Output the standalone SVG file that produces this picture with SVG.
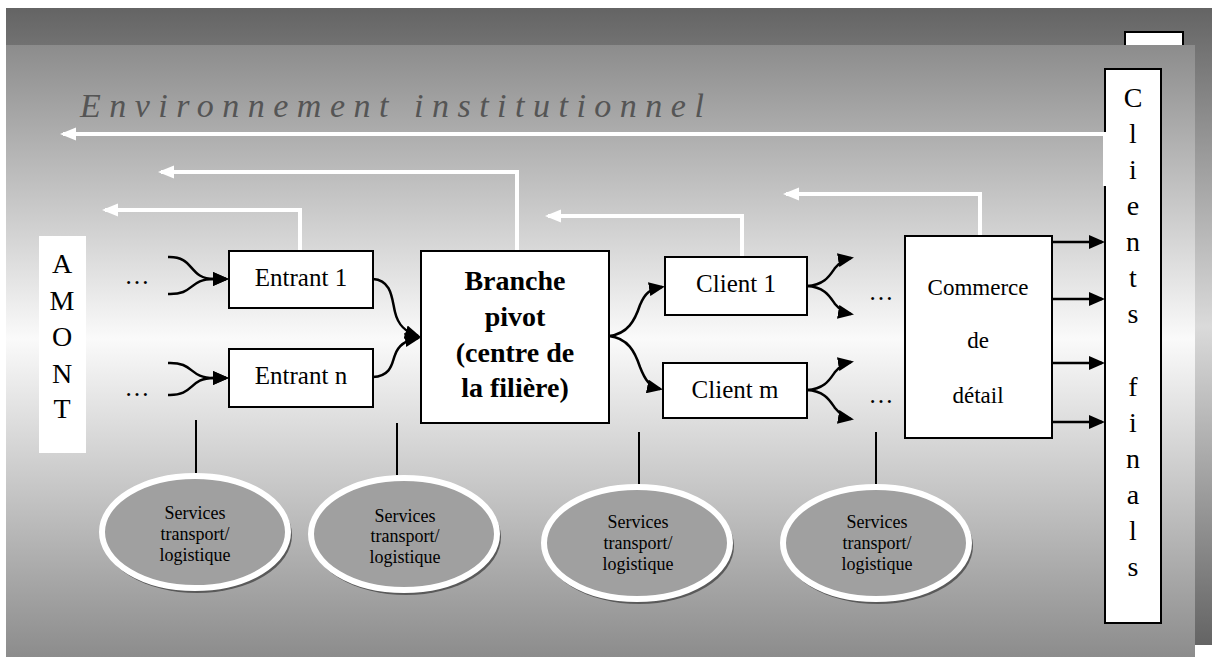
<svg xmlns="http://www.w3.org/2000/svg" width="1212" height="657" viewBox="0 0 1212 657">
<style>
.box{fill:#fff;stroke:#000;stroke-width:2}
.lbl{font-family:"Liberation Serif","Times New Roman",serif;fill:#000;text-anchor:middle}
.t25{font-size:25px}
.t28{font-size:28px}
.conn{fill:none;stroke:#000;stroke-width:2.5;marker-end:url(#ah)}
.wconn{fill:none;stroke:#fff;stroke-width:4;stroke-linejoin:miter;marker-end:url(#wah)}
.vline{fill:none;stroke:#000;stroke-width:2}
.shadow{fill:#5a5a5a}
.ell{fill:#a0a0a0;stroke:#fff;stroke-width:6}
.svc{font-family:"Liberation Serif","Times New Roman",serif;font-size:18px;fill:#000;text-anchor:middle}
</style>
<defs>
<linearGradient id="gBack" x1="0" y1="0" x2="0" y2="1">
<stop offset="0" stop-color="#646464"/>
<stop offset="0.5" stop-color="#dadada"/>
<stop offset="1" stop-color="#646464"/>
</linearGradient>
<linearGradient id="gFront" x1="0" y1="0" x2="0" y2="1">
<stop offset="0" stop-color="#8c8c8c"/>
<stop offset="0.48" stop-color="#fafafa"/>
<stop offset="1" stop-color="#8c8c8c"/>
</linearGradient>
<marker id="ah" markerUnits="userSpaceOnUse" markerWidth="16" markerHeight="14" refX="13" refY="7" orient="auto"><path d="M0,0 L16,7 L0,14 z" fill="#000"/></marker>
<marker id="wah" markerUnits="userSpaceOnUse" markerWidth="16" markerHeight="14" refX="13" refY="7" orient="auto"><path d="M0,0.5 L16,7 L0,13.5 z" fill="#fff"/></marker>
</defs>

<g id="background">
<rect x="6" y="8" width="1206" height="637" fill="url(#gBack)"/>
<rect x="1125" y="32" width="58" height="100" fill="#fff" stroke="#000" stroke-width="2"/>
<rect x="6" y="45" width="1189" height="612" fill="url(#gFront)"/>
<text x="80" y="117" font-family="'Liberation Serif','Times New Roman',serif" font-style="italic" font-size="34" letter-spacing="8.5" fill="#555">Environnement institutionnel</text>
</g>

<g id="amont">
<rect x="39" y="236" width="47" height="217" fill="#fff"/>
<text class="lbl t28" x="62" y="273">A</text>
<text class="lbl t28" x="62" y="310">M</text>
<text class="lbl t28" x="62" y="346">O</text>
<text class="lbl t28" x="62" y="383">N</text>
<text class="lbl t28" x="62" y="418">T</text>
</g>

<g id="dots">
<text class="lbl t25" x="137" y="284">…</text>
<text class="lbl t25" x="137" y="396">…</text>
<text class="lbl t25" x="881" y="300">…</text>
<text class="lbl t25" x="881" y="403">…</text>
</g>

<g id="entrant1">
<rect class="box" x="229" y="251" width="144" height="57"/>
<text class="lbl t25" x="301" y="286">Entrant 1</text>
</g>
<g id="entrantn">
<rect class="box" x="229" y="349" width="144" height="58"/>
<text class="lbl t25" x="301" y="384">Entrant n</text>
</g>
<g id="branche">
<rect class="box" x="421" y="251" width="188" height="172"/>
<text class="lbl t28" font-weight="bold" x="515" y="290">Branche</text>
<text class="lbl t28" font-weight="bold" x="515" y="326">pivot</text>
<text class="lbl t28" font-weight="bold" x="515" y="362">(centre de</text>
<text class="lbl t28" font-weight="bold" x="515" y="397">la filière)</text>
</g>
<g id="client1">
<rect class="box" x="665" y="257" width="142" height="58"/>
<text class="lbl t25" x="736" y="292">Client 1</text>
</g>
<g id="clientm">
<rect class="box" x="663" y="363" width="144" height="55"/>
<text class="lbl t25" x="735" y="398">Client m</text>
</g>
<g id="commerce">
<rect class="box" x="905" y="236" width="147" height="202"/>
<text class="lbl" font-size="23" x="978" y="295">Commerce</text>
<text class="lbl" font-size="23" x="978" y="348">de</text>
<text class="lbl" font-size="23" x="978" y="403">détail</text>
</g>
<g id="clients-finals">
<rect class="box" x="1105" y="69" width="56" height="554"/>
<text class="lbl t28" x="1133" y="107">C</text>
<text class="lbl t28" x="1133" y="143">l</text>
<text class="lbl t28" x="1133" y="179">i</text>
<text class="lbl t28" x="1133" y="215">e</text>
<text class="lbl t28" x="1133" y="251">n</text>
<text class="lbl t28" x="1133" y="287">t</text>
<text class="lbl t28" x="1133" y="323">s</text>
<text class="lbl t28" x="1133" y="396">f</text>
<text class="lbl t28" x="1133" y="432">i</text>
<text class="lbl t28" x="1133" y="468">n</text>
<text class="lbl t28" x="1133" y="504">a</text>
<text class="lbl t28" x="1133" y="540">l</text>
<text class="lbl t28" x="1133" y="576">s</text>
</g>

<g id="services1">
<ellipse class="shadow" cx="197" cy="535" rx="95" ry="58"/>
<ellipse class="ell" cx="195" cy="532" rx="93" ry="56"/>
<text class="svc" x="195" y="519">Services</text>
<text class="svc" x="195" y="540">transport/</text>
<text class="svc" x="195" y="561">logistique</text>
</g>
<g id="services2">
<ellipse class="shadow" cx="406" cy="537" rx="95" ry="58"/>
<ellipse class="ell" cx="404" cy="534" rx="93" ry="56"/>
<text class="svc" x="405" y="522">Services</text>
<text class="svc" x="405" y="542">transport/</text>
<text class="svc" x="405" y="563">logistique</text>
</g>
<g id="services3">
<ellipse class="shadow" cx="639" cy="546" rx="95" ry="58"/>
<ellipse class="ell" cx="637" cy="543" rx="93" ry="56"/>
<text class="svc" x="638" y="528">Services</text>
<text class="svc" x="638" y="549">transport/</text>
<text class="svc" x="638" y="570">logistique</text>
</g>
<g id="services4">
<ellipse class="shadow" cx="878" cy="546" rx="95" ry="58"/>
<ellipse class="ell" cx="876" cy="543" rx="93" ry="56"/>
<text class="svc" x="877" y="528">Services</text>
<text class="svc" x="877" y="549">transport/</text>
<text class="svc" x="877" y="570">logistique</text>
</g>

<g id="connectors">
<path class="vline" d="M196,420 L196,473"/>
<path class="vline" d="M397,423 L397,475"/>
<path class="vline" d="M639,432 L639,484"/>
<path class="vline" d="M876,432 L876,484"/>

<path class="conn" d="M168,257 C195,256 188,279 214,279 L226,279"/>
<path class="conn" d="M168,294 C195,295 188,279 214,279 L226,279"/>
<path class="conn" d="M168,363 C195,362 188,378 214,378 L226,378"/>
<path class="conn" d="M168,395 C195,396 188,378 214,378 L226,378"/>

<path class="conn" d="M373,279 C392,280 392,300 395,312 C398,325 405,332 418,336"/>
<path class="conn" d="M373,377 C392,376 392,362 395,355 C398,346 405,340 418,338"/>

<path class="conn" d="M609,336 C628,334 635,320 640,305 C645,293 650,289 662,287"/>
<path class="conn" d="M609,336 C628,338 635,352 640,367 C645,380 650,387 660,389"/>

<path class="conn" d="M807,286 C825,285 830,275 835,268 C840,262 845,259 851,258"/>
<path class="conn" d="M807,286 C825,287 830,297 835,304 C840,310 845,313 851,314"/>
<path class="conn" d="M807,390 C825,389 830,379 835,372 C840,366 845,363 851,362"/>
<path class="conn" d="M807,390 C825,391 830,401 835,408 C840,414 845,418 851,419"/>

<path class="conn" d="M1052,242 L1102,242"/>
<path class="conn" d="M1052,299 L1102,299"/>
<path class="conn" d="M1052,363 L1102,363"/>
<path class="conn" d="M1052,422 L1102,422"/>

<path class="wconn" d="M1105,186 L1105,134 L63,134"/>
<path class="wconn" d="M517,250 L517,172 L161,172"/>
<path class="wconn" d="M300,250 L300,210 L105,210"/>
<path class="wconn" d="M742,256 L742,216 L548,216"/>
<path class="wconn" d="M980,235 L980,194 L786,194"/>
</g>
</svg>
